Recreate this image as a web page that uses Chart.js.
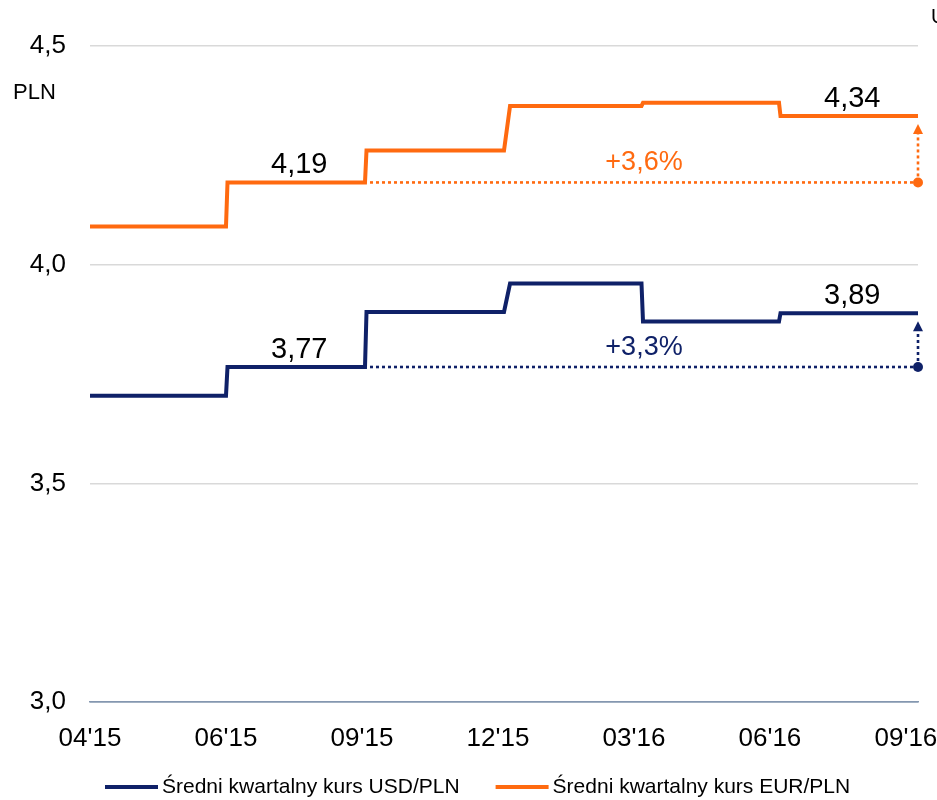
<!DOCTYPE html>
<html><head><meta charset="utf-8">
<script src="https://cdn.jsdelivr.net/npm/chart.js@4.4.1/dist/chart.umd.min.js"></script>
<style>html,body{margin:0;padding:0;background:#fff;} canvas{display:block;}</style>
</head><body>
<canvas id="c" width="937" height="800"></canvas>
<script>
// ---- data ----
const periodStart = ['2015-04-01','2015-07-01','2015-10-01','2016-01-04','2016-04-01','2016-07-01'];
const periodEnd   = ['2015-06-30','2015-09-30','2015-12-31','2016-03-31','2016-06-30','2016-09-30'];
const usdPln = [3.700, 3.766, 3.892, 3.957, 3.870, 3.889];
const eurPln = [4.087, 4.188, 4.261, 4.363, 4.370, 4.340];
const tickDates  = ['2015-04-01','2015-06-30','2015-09-28','2015-12-27','2016-03-26','2016-06-24','2016-09-22'];
const tickLabels = ["04'15","06'15","09'15","12'15","03'16","06'16","09'16"];
const yTicks = [3.0, 3.5, 4.0, 4.5];
const seriesNames = ['Średni kwartalny kurs USD/PLN', 'Średni kwartalny kurs EUR/PLN'];
const unitLabel = 'PLN';
const baseIdx = 1;   // reference quarter for the change arrows
const lastIdx = 5;   // latest quarter

// ---- helpers ----
const FONT = '"Liberation Sans", Arial, sans-serif';
const NAVY = '#0f2168', ORANGE = '#ff6a10';
const origin = Date.UTC(2015, 3, 1);
function day(s){ const p = s.split('-').map(Number); return (Date.UTC(p[0], p[1]-1, p[2]) - origin) / 86400000; }
const tickDays = tickDates.map(day);
const maxDay = day(periodEnd[periodEnd.length-1]);
function toPoints(vals){
  const pts = [];
  vals.forEach((v,i) => { pts.push({x: day(periodStart[i]), y: v}); pts.push({x: day(periodEnd[i]), y: v}); });
  return pts;
}
const fmt = (v, d) => v.toFixed(d).replace('.', ',');

const series = [
  {name: seriesNames[0], vals: usdPln, color: NAVY},
  {name: seriesNames[1], vals: eurPln, color: ORANGE}
];

const annotPlugin = {
  id: 'annot',
  afterDatasetsDraw(chart){
    const ctx = chart.ctx, xs = chart.scales.x, ys = chart.scales.y;
    ctx.save();
    series.forEach(s => {
      const b = s.vals[baseIdx], l = s.vals[lastIdx];
      const yb = ys.getPixelForValue(b), yl = ys.getPixelForValue(l);
      // value labels
      ctx.fillStyle = '#000';
      ctx.font = '29px ' + FONT;
      ctx.textAlign = 'center'; ctx.textBaseline = 'alphabetic';
      [baseIdx, lastIdx].forEach(i => {
        const xm = (xs.getPixelForValue(day(periodStart[i])) + xs.getPixelForValue(day(periodEnd[i]))) / 2;
        ctx.fillText(fmt(s.vals[i], 2), xm + 3, ys.getPixelForValue(s.vals[i]) - 9);
      });
      // dotted reference line
      const x0 = xs.getPixelForValue(day(periodEnd[baseIdx])) + 5;
      const x1 = xs.getPixelForValue(day(periodEnd[lastIdx]));
      ctx.strokeStyle = s.color; ctx.fillStyle = s.color;
      ctx.lineWidth = 2.6; ctx.setLineDash([3, 3]); ctx.lineCap = 'butt';
      ctx.beginPath(); ctx.moveTo(x0, yb); ctx.lineTo(x1, yb); ctx.stroke();
      // vertical arrow
      const tip = yl + 8;
      ctx.beginPath(); ctx.moveTo(x1, yb); ctx.lineTo(x1, tip + 9); ctx.stroke();
      ctx.setLineDash([]);
      ctx.beginPath(); ctx.moveTo(x1, tip); ctx.lineTo(x1 - 5, tip + 10); ctx.lineTo(x1 + 5, tip + 10); ctx.closePath(); ctx.fill();
      ctx.beginPath(); ctx.arc(x1, yb, 5, 0, Math.PI * 2); ctx.fill();
      // percent change
      ctx.font = '27px ' + FONT;
      ctx.fillText('+' + fmt((l / b - 1) * 100, 1) + '%', (x0 + x1) / 2, yb - 12);
    });
    // unit label
    ctx.fillStyle = '#000'; ctx.textAlign = 'left';
    ctx.font = '22px ' + FONT;
    ctx.fillText(unitLabel, 13, 99);
    ctx.font = '20px ' + FONT;
    ctx.fillText('U', 931, 23);
    // legend
    ctx.font = '21px ' + FONT;
    let x = 105; const ly = 787;
    series.forEach(s => {
      ctx.strokeStyle = s.color; ctx.lineWidth = 4;
      ctx.beginPath(); ctx.moveTo(x, ly); ctx.lineTo(x + 53, ly); ctx.stroke();
      ctx.fillStyle = '#000';
      ctx.fillText(s.name, x + 57, ly + 6);
      x += 57 + ctx.measureText(s.name).width + 36;
    });
    ctx.restore();
  }
};

new Chart(document.getElementById('c'), {
  type: 'line',
  data: {
    datasets: series.map(s => ({
      label: s.name, data: toPoints(s.vals), borderColor: s.color, backgroundColor: s.color,
      borderWidth: 4, pointRadius: 0, tension: 0, fill: false
    }))
  },
  options: {
    responsive: false, animation: false, devicePixelRatio: 1,
    layout: {padding: {top: 46, left: 0, right: 0, bottom: 48}},
    plugins: {legend: {display: false}, tooltip: {enabled: false}},
    scales: {
      x: {
        type: 'linear', min: 0, max: maxDay,
        afterBuildTicks: sc => { sc.ticks = tickDays.map(v => ({value: v})); },
        afterFit: sc => { sc.height = 50; sc.paddingRight = 19; sc.paddingLeft = 0; },
        ticks: {autoSkip: false, maxRotation: 0, padding: 13, color: '#000',
          font: {size: 26, family: FONT},
          callback: (v, i) => tickLabels[i]},
        grid: {display: false},
        border: {display: true, color: '#8497b0', width: 1.5}
      },
      y: {
        min: 3, max: 4.5,
        afterBuildTicks: sc => { sc.ticks = yTicks.map(v => ({value: v})); },
        afterFit: sc => { sc.width = 90; },
        ticks: {padding: 24, color: '#000', font: {size: 26, family: FONT},
          callback: v => fmt(v, 1)},
        grid: {drawTicks: false, lineWidth: 1.5,
          color: c => (c.tick && c.tick.value === 3) ? '#8497b0' : '#d9d9d9'},
        border: {display: false}
      }
    }
  },
  plugins: [annotPlugin]
});
</script>
</body></html>
